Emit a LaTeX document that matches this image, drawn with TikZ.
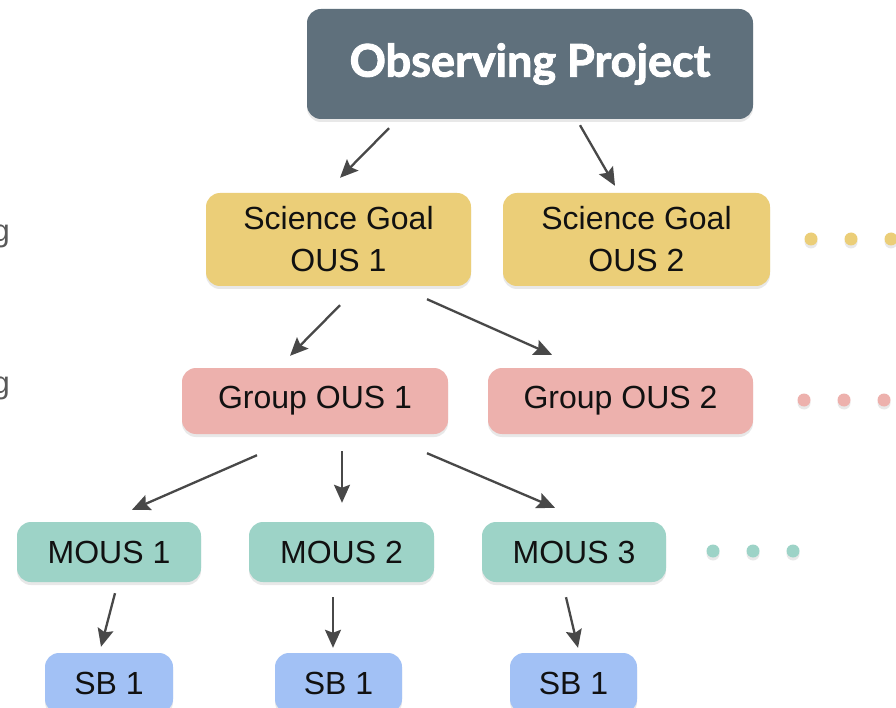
\documentclass[tikz,border=0pt]{standalone}
\usepackage{fontspec}
\setmainfont{Liberation Sans}
\newfontfamily\titlefont[BoldFeatures={FakeBold=2}]{Lato}
\usetikzlibrary{arrows.meta,shadows,calc}
\definecolor{slate}{HTML}{5F707C}
\definecolor{sgyellow}{HTML}{EBCE78}
\definecolor{grpink}{HTML}{EDB1AD}
\definecolor{mteal}{HTML}{9DD3C7}
\definecolor{sbblue}{HTML}{A2C1F5}
\definecolor{arrowgray}{HTML}{484848}
\definecolor{txt}{HTML}{111111}
\begin{document}
\begin{tikzpicture}[x=1pt,y=-1pt,
  box/.style={rounded corners=14pt, inner sep=0pt, text=txt,
    font=\fontsize{32}{42}\selectfont, align=center,
    drop shadow={opacity=0.18, shadow xshift=0pt, shadow yshift=-3pt}},
  dotm/.style={circle, inner sep=0pt, minimum size=13pt,
    drop shadow={opacity=0.18, shadow xshift=0pt, shadow yshift=-3pt}},
  arr/.style={draw=arrowgray, line width=2.3pt,
    -{Stealth[length=18pt,width=16pt,inset=3pt]}}]
\useasboundingbox (0,0) rectangle (896,708);
\fill[white] (0,0) rectangle (896,708);
% cut-off side text
\node[anchor=east, text=black!65, font=\fontsize{31}{36}\selectfont, inner sep=0pt] (lg1) at (10,236) {g};
\node[anchor=east, text=black!65, font=\fontsize{31}{36}\selectfont, inner sep=0pt] (lg2) at (10,388) {g};
% nodes
\node[box, fill=slate, text=white, minimum width=446pt, minimum height=110pt,
  font=\titlefont\bfseries\fontsize{45}{48}\selectfont] (op) at (530,64) {Observing Project};
\node[box, fill=sgyellow, minimum width=265pt, minimum height=93pt] (sg1) at (338.5,239.5) {Science Goal\\OUS 1};
\node[box, fill=sgyellow, minimum width=267pt, minimum height=93pt] (sg2) at (636.5,239.5) {Science Goal\\OUS 2};
\node[box, fill=grpink, minimum width=266pt, minimum height=66pt] (g1) at (315,401) {Group OUS 1};
\node[box, fill=grpink, minimum width=265pt, minimum height=66pt] (g2) at (620.5,401) {Group OUS 2};
\node[box, fill=mteal, minimum width=184pt, minimum height=60pt] (m1) at (109,552) {MOUS 1};
\node[box, fill=mteal, minimum width=185pt, minimum height=60pt] (m2) at (341.5,552) {MOUS 2};
\node[box, fill=mteal, minimum width=184pt, minimum height=60pt] (m3) at (574,552) {MOUS 3};
\node[box, fill=sbblue, minimum width=128pt, minimum height=60pt] (s1) at (109,683) {SB 1};
\node[box, fill=sbblue, minimum width=127pt, minimum height=60pt] (s2) at (338.5,683) {SB 1};
\node[box, fill=sbblue, minimum width=127pt, minimum height=60pt] (s3) at (573.5,683) {SB 1};
% dots
\foreach \x [count=\i] in {811,851,891} \node[dotm, fill=sgyellow] (yd\i) at (\x,239) {};
\foreach \x [count=\i] in {804,844,884} \node[dotm, fill=grpink] (pd\i) at (\x,400) {};
\foreach \x [count=\i] in {713,753,793} \node[dotm, fill=mteal] (td\i) at (\x,551) {};
% arrows
\draw[arr] ($(op.south)+(-141,9)$) -- ($(sg1.north)+(1.5,-15)$);
\draw[arr] ($(op.south)+(50,6)$) -- ($(sg2.north)+(-21.5,-7)$);
\draw[arr] ($(sg1.south)+(1.5,19)$) -- ($(g1.north)+(-25,-12)$);
\draw[arr] ($(sg1.south)+(88.5,13)$) -- ($(g1.north)+(237,-13)$);
\draw[arr] ($(g1.south)+(-58,21)$) -- ($(m1.north)+(23,-12)$);
\draw[arr] ($(g1.south)+(27,17)$) -- ($(m2.north)+(0.5,-19)$);
\draw[arr] ($(g1.south)+(112,19)$) -- ($(m3.north)+(-19,-14)$);
\draw[arr] ($(m1.south)+(6,11)$) -- ($(s1.north)+(-8,-6)$);
\draw[arr] ($(m2.south)+(-8.5,15)$) -- ($(s2.north)+(-5.5,-5)$);
\draw[arr] ($(m3.south)+(-8,15)$) -- ($(s3.north)+(4.5,-5)$);
\end{tikzpicture}
\end{document}
